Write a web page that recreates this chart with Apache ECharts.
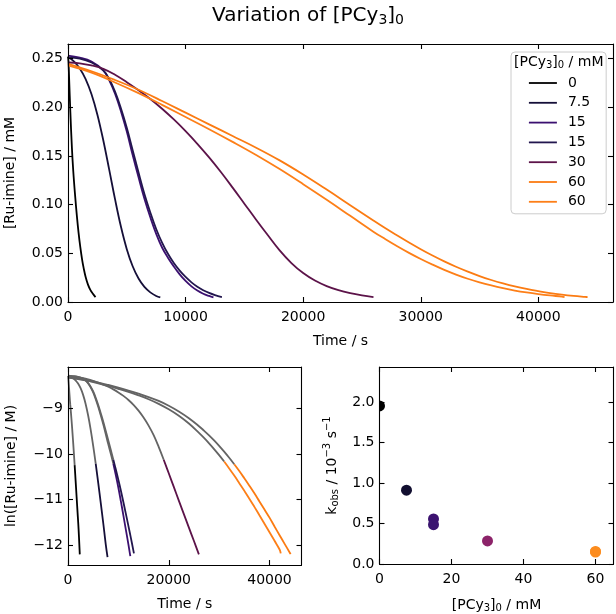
<!DOCTYPE html>
<html><head><meta charset="utf-8">
<script src="https://cdn.jsdelivr.net/npm/echarts@6/dist/echarts.min.js"></script>
<style>html,body{margin:0;padding:0;background:#fff}#c{width:616px;height:614px}</style>
</head><body><div id="c"></div>
<script>
// ---------------- data ----------------
const legendNames = ['0', '7.5', '15', '15 ', '30', '60', '60 '];
const pcy3 = [0, 7.5, 15, 15, 30, 60, 60];                 // mM
const kobs = [1.95, 0.91, 0.555, 0.485, 0.285, 0.155, 0.148]; // 10^-3 s^-1

// [time (s), [Ru-imine] (mM)]
const curve0 = [[0,0.252],[40,0.247],[100,0.228],[200,0.195],[330,0.159],[450,0.134],[600,0.110],[750,0.089],[900,0.071],[1050,0.056],[1200,0.0435],[1320,0.0355],[1500,0.0257],[1700,0.0179],[1900,0.0125],[2100,0.0087],[2340,0.0050]];
const curve7_5 = [[0,0.252],[500,0.2472],[1000,0.2399],[1500,0.229],[2000,0.2134],[2500,0.1924],[3000,0.1661],[3500,0.1362],[4000,0.1056],[4500,0.0775],[5000,0.0543],[5500,0.0367],[6000,0.0241],[6500,0.0155],[7000,0.0099],[7500,0.0062],[7850,0.0047]];
const curve15a = [[0,0.253],[1000,0.251],[2000,0.247],[3000,0.238],[3500,0.228],[4000,0.214],[4500,0.196],[5000,0.175],[5500,0.151],[6000,0.128],[6500,0.106],[7000,0.087],[7500,0.070],[8000,0.056],[8500,0.0455],[9000,0.0365],[9500,0.0284],[10000,0.0216],[10500,0.0160],[11000,0.0117],[11500,0.0085],[12000,0.0062],[12370,0.0048]];
const curve15b = [[0,0.251],[1000,0.250],[2000,0.246],[3000,0.238],[3500,0.229],[4000,0.216],[4500,0.199],[5000,0.179],[5500,0.156],[6000,0.133],[6500,0.111],[7000,0.092],[7500,0.075],[8000,0.061],[8500,0.0495],[9000,0.040],[9500,0.0322],[10000,0.0257],[10500,0.0202],[11000,0.0157],[11500,0.0121],[12000,0.0093],[12500,0.0071],[13090,0.0051]];
const curve30 = [[0,0.246],[1000,0.2452],[2000,0.243],[3000,0.2395],[4000,0.2335],[5000,0.2258],[6000,0.2175],[7000,0.2085],[8000,0.1985],[9000,0.1875],[10000,0.1755],[11000,0.1625],[12000,0.1485],[13000,0.1335],[14000,0.1175],[15000,0.101],[16000,0.0845],[17000,0.0685],[18000,0.053],[19000,0.040],[20000,0.0297],[21000,0.022],[22000,0.0163],[23000,0.0121],[24000,0.009],[25000,0.0067],[25980,0.005]];
const curve60a = [[0,0.2445],[2000,0.237],[4000,0.228],[6000,0.218],[8000,0.2065],[10000,0.1945],[12000,0.1825],[14000,0.1705],[16000,0.1585],[18000,0.1455],[20000,0.131],[22000,0.1155],[24000,0.0995],[26000,0.0835],[27000,0.0757],[28000,0.0683],[29000,0.0611],[30000,0.0542],[31000,0.0477],[32000,0.0417],[33000,0.0362],[34000,0.0312],[35000,0.0266],[36000,0.0226],[37000,0.0191],[38000,0.016],[39000,0.0134],[40000,0.0112],[41000,0.00922],[42000,0.00762],[43000,0.0063],[44000,0.00521],[44190,0.00502]];
const curve60b = [[0,0.243],[2000,0.2355],[4000,0.2255],[6000,0.2145],[8000,0.2025],[10000,0.190],[12000,0.1775],[14000,0.1645],[16000,0.151],[18000,0.1365],[20000,0.121],[22000,0.105],[24000,0.0885],[26000,0.072],[27000,0.0645],[28000,0.0573],[29000,0.0505],[30000,0.0442],[31000,0.0384],[32000,0.033],[33000,0.0282],[34000,0.0239],[35000,0.0202],[36000,0.017],[37000,0.0142],[38000,0.0118],[39000,0.00981],[40000,0.00813],[41000,0.00673],[42000,0.00556],[42230,0.0051]];
const curves = [curve0, curve7_5, curve15a, curve15b, curve30, curve60a, curve60b];

const fitStart = 0.0405; // mM : start of the fitted (coloured) region in the ln plot

const xTicksTime = [0, 10000, 20000, 30000, 40000];
const yTicksConc = [0, 0.05, 0.10, 0.15, 0.20, 0.25];
const xTicksLn = [0, 20000, 40000];
const yTicksLn = [-12, -11, -10, -9];
const xTicksK = [0, 20, 40, 60];
const yTicksK = [0, 0.5, 1.0, 1.5, 2.0];

// ---------------- styles ----------------
const lineColors = ['#000000', '#150f38', '#3b1070', '#22164e', '#5c1349', '#fb7b12', '#fd7f18'];
const dotColors  = ['#000000', '#120f30', '#3c1270', '#3a1570', '#8c2369', '#fc8c1e', '#fc8c1e'];
const gray = '#646464';
const FONT = 'DejaVu Sans';
const grids = [
  {left: 68, top: 44, width: 545, height: 258},
  {left: 68, top: 367, width: 233.5, height: 198},
  {left: 379.5, top: 367, width: 234, height: 197}
];
const dotSize = 11;

const chart = echarts.init(document.getElementById('c'), null, {renderer: 'canvas'});

function axis(gridIndex, position, min, max, ticks, opts) {
  opts = opts || {};
  return {
    type: 'value', gridIndex, position, min, max, z: 6,
    axisLine: {show: true, onZero: false, lineStyle: {color: '#000', width: 1.1}},
    axisTick: {show: true, inside: true, length: 5, customValues: ticks, lineStyle: {color: '#000', width: 1.1}},
    splitLine: {show: false},
    axisLabel: {
      show: !!opts.labels, customValues: ticks, fontSize: 14, fontFamily: FONT, color: '#000',
      margin: opts.margin || 5, formatter: opts.fmt || (v => String(v))
    },
    name: opts.name || '', nameLocation: 'middle', nameGap: opts.nameGap || 0,
    nameTextStyle: opts.nameStyle || {fontSize: 14, fontFamily: FONT, color: '#000'}
  };
}
const minus = v => (v < 0 ? '\u2212' + Math.abs(v) : String(v));

const rSub = {
  a: {fontSize: 14, fontFamily: FONT, fontWeight: 'normal', color: '#000', padding: [3, 0, 1.5, 0], verticalAlign: 'bottom'},
  s: {fontSize: 10, fontFamily: FONT, fontWeight: 'normal', color: '#000', verticalAlign: 'bottom'},
  p: {fontSize: 10, fontFamily: FONT, fontWeight: 'normal', color: '#000', verticalAlign: 'top'}
};

const xAxis = [
  axis(0, 'bottom', 0, 46350, xTicksTime, {labels: true, margin: 8, name: 'Time / s', nameGap: 32}),
  axis(0, 'top', 0, 46350, xTicksTime),
  axis(1, 'bottom', 0, 46350, xTicksLn, {labels: true, margin: 8, name: 'Time / s', nameGap: 32}),
  axis(1, 'top', 0, 46350, xTicksLn),
  axis(2, 'bottom', 0, 65, xTicksK, {labels: true, margin: 8, name: '{a|[PCy}{s|3}{a|]}{s|0}{a| / mM}', nameGap: 31,
    nameStyle: {rich: rSub}}),
  axis(2, 'top', 0, 65, xTicksK)
];
const yAxis = [
  axis(0, 'left', 0, 0.265, yTicksConc, {labels: true, fmt: v => v.toFixed(2), name: '[Ru-imine] / mM', nameGap: 51}),
  axis(0, 'right', 0, 0.265, yTicksConc),
  axis(1, 'left', -12.44, -8.09, yTicksLn, {labels: true, fmt: minus, name: 'ln([Ru-imine] / M)', nameGap: 50}),
  axis(1, 'right', -12.44, -8.09, yTicksLn),
  axis(2, 'left', 0, 2.43, yTicksK, {labels: true, fmt: v => v.toFixed(1), name: '{a|k}{s|obs}{a| / 10}{p|\u22123}{a| s}{p|\u22121}', nameGap: 39,
    nameStyle: {rich: rSub}}),
  axis(2, 'right', 0, 2.43, yTicksK)
];

const series = [];
const lineBase = {type: 'line', symbol: 'none', showSymbol: false, smooth: 0.4};
curves.forEach((cv, i) => {
  series.push(Object.assign({}, lineBase, {
    name: legendNames[i], xAxisIndex: 0, yAxisIndex: 0, data: cv,
    lineStyle: {color: lineColors[i], width: 1.8}, itemStyle: {color: lineColors[i]}, z: 3
  }));
});
curves.forEach((cv, i) => {
  let k = cv.findIndex(p => p[1] <= fitStart);
  if (k < 0) k = cv.length - 1;
  const ln = cv.map(p => [p[0], Math.log(p[1] * 1e-3)]);
  series.push(Object.assign({}, lineBase, {
    name: 'ln-head-' + i, xAxisIndex: 2, yAxisIndex: 2, data: ln.slice(0, k + 1),
    lineStyle: {color: gray, width: 1.8}, z: 3
  }));
  series.push(Object.assign({}, lineBase, {
    name: 'ln-fit-' + i, xAxisIndex: 2, yAxisIndex: 2, data: ln.slice(k),
    lineStyle: {color: lineColors[i], width: 1.8}, z: 4
  }));
});
series.push({
  name: 'kobs', type: 'scatter', xAxisIndex: 4, yAxisIndex: 4, symbolSize: dotSize,
  data: pcy3.map((x, i) => ({value: [x, kobs[i]], itemStyle: {color: dotColors[i], opacity: 1}})), z: 3
});

const g3 = grids[2];
chart.setOption({
  animation: false,
  backgroundColor: '#fff',
  title: {
    text: '{a|Variation of [PCy}{s|3}{a|]}{s|0}', left: 'center', top: 1,
    textStyle: {fontWeight: 'normal', rich: {
      a: {fontSize: 20, fontFamily: FONT, fontWeight: 'normal', color: '#000', padding: [0, 0, 1.5, 0], verticalAlign: 'bottom'},
      s: {fontSize: 14, fontFamily: FONT, fontWeight: 'normal', color: '#000', verticalAlign: 'bottom'}
    }}
  },
  grid: grids.map(g => Object.assign({containLabel: false, outerBoundsMode: 'none'}, g)),
  xAxis, yAxis,
  legend: {
    data: legendNames, orient: 'vertical', left: 511, top: 52,
    padding: [24, 16, 5, 17], itemWidth: 28, itemHeight: 14, itemGap: 5.8,
    backgroundColor: 'rgba(255,255,255,0.85)', borderColor: '#cccccc', borderWidth: 1, borderRadius: 4,
    itemStyle: {opacity: 0}, lineStyle: {width: 1.8},
    textStyle: {fontSize: 14, fontFamily: FONT, color: '#000', padding: [0, 0, 0, 6]},
    formatter: n => n.trim(), selectedMode: false
  },
  graphic: [
    { // clip markers at the left edge of the k_obs axes (as the plotting area does)
      type: 'rect', z: 4, silent: true,
      shape: {x: g3.left - dotSize, y: g3.top, width: dotSize, height: g3.height},
      style: {fill: '#fff'}
    },
    {
      type: 'text', left: 514, top: 55, z: 100,
      style: {text: '{a|[PCy}{s|3}{a|]}{s|0}{a| / mM}', rich: rSub}
    }
  ],
  series
});
</script></body></html>
